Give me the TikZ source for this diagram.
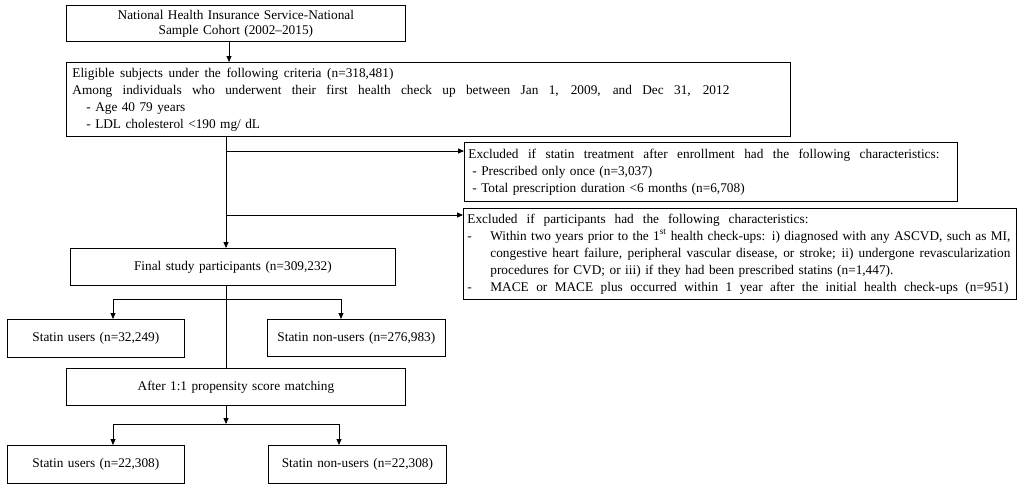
\documentclass[tikz,border=0pt]{standalone}
\usepackage{fontspec}
\setmainfont{Liberation Serif}
\usetikzlibrary{arrows.meta}
\newcommand{\jline}[2]{\makebox[#1][s]{\spaceskip=3.3pt plus 40pt minus 1.5pt\relax #2}}
\begin{document}
\begin{tikzpicture}[x=1pt,y=-1pt,
  box/.style={draw, line width=0.8pt, anchor=north west, inner ysep=0pt,
    font=\fontsize{13.3}{17}\selectfont},
  arr/.style={-{Triangle[length=6pt,width=5pt]}, line width=0.8pt},
  arrboth/.style={{Triangle[length=6pt,width=5pt]}-{Triangle[length=6pt,width=5pt]}, line width=0.8pt},
  ln/.style={line width=0.8pt}]
\useasboundingbox[fill=white] (0,0) rectangle (1021,488);

\node[box, minimum width=339pt, minimum height=36pt, text width=331pt, inner xsep=4pt, align=center,
  font=\fontsize{13.3}{15}\selectfont] (b1) at (66,5)
  {National Health Insurance Service-National\\Sample Cohort (2002--2015)};

\node[box, minimum width=724pt, minimum height=74pt, text width=712pt, inner xsep=6pt, align=left] (b2) at (66,62)
  {\jline{321pt}{Eligible subjects under the following criteria (n=318,481)}\\
   \jline{657pt}{Among individuals who underwent their first health check up between Jan 1, 2009, and Dec 31, 2012}\\
   \hspace*{14pt}- Age 40 79 years\\
   \hspace*{14pt}- LDL cholesterol <190 mg/ dL};

\node[box, minimum width=493pt, minimum height=59pt, text width=485pt, inner xsep=4pt, align=left] (b3) at (464,142)
  {\jline{471pt}{Excluded if statin treatment after enrollment had the following characteristics:}\\
   \hspace*{4pt}- Prescribed only once (n=3,037)\\
   \hspace*{4pt}- Total prescription duration <6 months (n=6,708)};

\node[box, minimum width=553pt, minimum height=91pt, text width=545pt, inner xsep=4pt, align=left] (b4) at (463,208)
  {\jline{341pt}{Excluded if participants had the following characteristics:}\\
   \makebox[23pt][l]{-}\jline{520pt}{Within two years prior to the 1\textsuperscript{st} health check-ups: i) diagnosed with any ASCVD, such as MI,}\\
   \hspace*{23pt}\jline{520pt}{congestive heart failure, peripheral vascular disease, or stroke; ii) undergone revascularization}\\
   \hspace*{23pt}\jline{403pt}{procedures for CVD; or iii) if they had been prescribed statins (n=1,447).}\\
   \makebox[23pt][l]{-}\jline{518pt}{MACE or MACE plus occurred within 1 year after the initial health check-ups (n=951)}};

\node[box, minimum width=325pt, minimum height=37pt, text width=317pt, inner xsep=4pt, align=center] (fin) at (70,248)
  {Final study participants (n=309,232)};

\node[box, minimum width=177pt, minimum height=38pt, text width=169pt, inner xsep=4pt, align=center] (u1) at (7,319)
  {Statin users (n=32,249)};
\node[box, minimum width=178pt, minimum height=37pt, text width=170pt, inner xsep=4pt, align=center] (n1) at (267,319)
  {Statin non-users (n=276,983)};

\node[box, minimum width=339pt, minimum height=37pt, text width=331pt, inner xsep=4pt, align=center] (prop) at (66,368)
  {After 1:1 propensity score matching};

\node[box, minimum width=177pt, minimum height=38pt, text width=169pt, inner xsep=4pt, align=center] (u2) at (7,445)
  {Statin users (n=22,308)};
\node[box, minimum width=178pt, minimum height=38pt, text width=170pt, inner xsep=4pt, align=center] (n2) at (268,445)
  {Statin non-users (n=22,308)};

\coordinate (xtop) at (229,0);
\coordinate (xt) at (226,0);
\coordinate (j1) at (226,151);
\coordinate (j2) at (226,215);
\coordinate (s1) at (113,299);
\coordinate (s2) at (341,299);
\coordinate (m) at (226,424);
\coordinate (t1) at (113,424);
\coordinate (t2) at (339,424);

\draw[arr] (b1.south -| xtop) -- (b2.north -| xtop);
\draw[arr] (b2.south -| xt) -- (fin.north -| xt);
\draw[arr] (j1) -- (j1 -| b3.west);
\draw[arr] (j2) -- (j2 -| b4.west);
\draw[ln] (fin.south -| xt) -- (prop.north -| xt);
\draw[arrboth] (s1 |- u1.north) -- (s1) -- (s2) -- (s2 |- n1.north);
\draw[arr] (prop.south -| m) -- (m);
\draw[arrboth] (t1 |- u2.north) -- (t1) -- (t2) -- (t2 |- n2.north);
\end{tikzpicture}
\end{document}
